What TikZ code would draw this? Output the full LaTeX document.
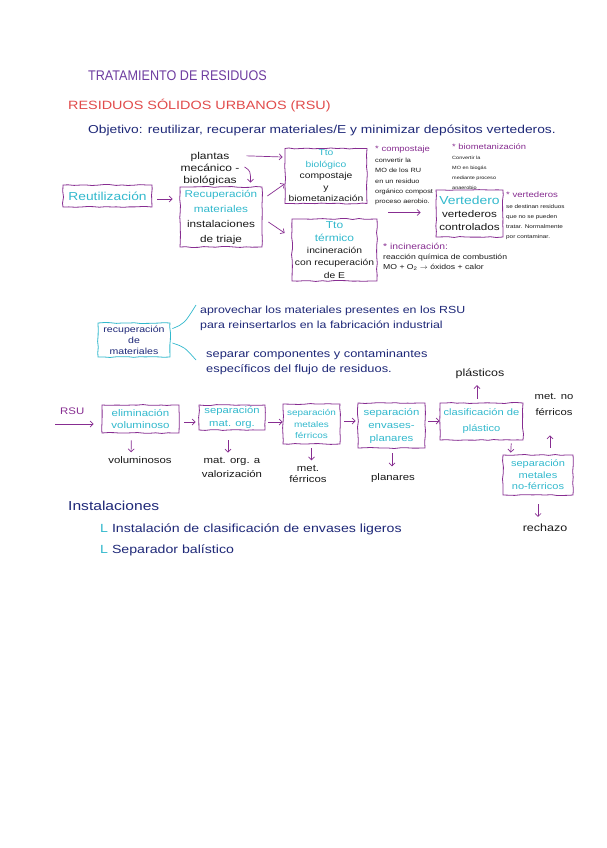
\documentclass[tikz,border=0pt]{standalone}
\usepackage{fontspec}
\setmainfont{Liberation Sans}[FakeStretch=1.2]
\newfontfamily\narrowf{Liberation Sans}[FakeStretch=0.9]
\usetikzlibrary{calc,decorations.pathmorphing,arrows.meta}
\definecolor{bpur}{RGB}{135,45,145}
\definecolor{cyanc}{RGB}{50,185,205}
\definecolor{navy}{RGB}{30,40,120}
\definecolor{redh}{RGB}{225,75,75}
\definecolor{tpur}{RGB}{110,60,160}
\definecolor{inkc}{RGB}{25,25,25}
\newcommand{\fs}[2]{\fontsize{#1}{#2}\selectfont}
\begin{document}
\pgfmathsetseed{7}
\begin{tikzpicture}[x=1pt,y=-1pt,
  hbox/.style={draw=bpur, line width=0.8pt, decorate,
    decoration={random steps,segment length=6pt,amplitude=0.5pt},
    align=center, inner sep=1pt, text=cyanc},
  cbox/.style={hbox, draw=cyanc, text=navy},
  arr/.style={draw=bpur, line width=0.7pt, -{Straight Barb[length=3pt,width=6pt]}},
  cline/.style={draw=cyanc, line width=0.7pt},
  anno/.style={anchor=north west, align=left, inner sep=0pt, text=inkc},
  outt/.style={align=center, inner sep=1pt, text=inkc, font=\fs{9.5}{11}},
  navyt/.style={anchor=west, align=left, inner sep=0pt, text=navy}
]
\useasboundingbox (0,0) rectangle (606,848);
\fill[white] (0,0) rectangle (606,848);

% headings
\node[anchor=west, inner sep=0pt, text=tpur, font=\narrowf\fs{14}{16}] (title) at (88,76) {TRATAMIENTO DE RESIDUOS};
\node[anchor=west, inner sep=0pt, text=redh, font=\fs{12}{14}] (rsuh) at (68,106) {RESIDUOS SÓLIDOS URBANOS (RSU)};
\node[anchor=west, inner sep=0pt, text=navy, font=\fs{11.5}{14}] (obj) at (88,130) {Objetivo: reutilizar, recuperar materiales/E y minimizar depósitos vertederos.};

% top flow
\node[hbox, minimum width=89pt, minimum height=22pt, font=\fs{11.5}{13}] (reut) at (107.5,196) {Reutilización};
\node[hbox, minimum width=82pt, minimum height=60pt, font=\fs{9.8}{15}] (recup) at (221,217) {Recuperación\\materiales\\\textcolor{inkc}{instalaciones}\\\textcolor{inkc}{de triaje}};
\node[hbox, minimum width=82pt, minimum height=55pt, font=\fs{8.6}{11.5}] (tbio) at (326,176) {Tto\\biológico\\\textcolor{inkc}{compostaje}\\\textcolor{inkc}{y}\\\textcolor{inkc}{biometanización}};
\node[hbox, minimum width=85pt, minimum height=62pt, font=\fs{8.6}{12.3}] (tterm) at (334.5,250) {{\fs{10}{12.3}Tto}\\{\fs{10}{12.3}térmico}\\\textcolor{inkc}{incineración}\\\textcolor{inkc}{con recuperación}\\\textcolor{inkc}{de E}};
\node[hbox, minimum width=67pt, minimum height=47pt, font=\fs{9.7}{13}] (vert) at (469.5,213.5) {{\fs{11.6}{13}Vertedero}\\\textcolor{inkc}{vertederos}\\\textcolor{inkc}{controlados}};

\node[outt, font=\fs{10}{12.3}] (plantas) at (210,169) {plantas\\mecánico -\\biológicas};

\draw[arr] ($(reut.east)+(5,3)$) -- ($(recup.west)+(-7,-18)$);
\draw[arr] ($(recup.east)+(5,-21)$) -- ($(tbio.south west)+(0,-20)$);
\draw[arr] ($(recup.east)+(6,5)$) -- ($(tterm.west)+(-7,-17)$);
\draw[arr] ($(plantas.north east)+(6,5)$) -- ($(tbio.west)+(-2,-19)$);
\draw[arr] ($(plantas.east)+(4,-2)$) .. controls +(6,4) .. ($(recup.north east)+(-12,-4)$);

% annotations
\node[anno, font=\fs{6.1}{10.4}] (compnote) at (375,146) {{\fs{7.9}{10.4}\textcolor{bpur}{* compostaje}}\\convertir la\\MO de los RU\\en un residuo\\orgánico compost\\proceso aerobio.};
\node[anno, font=\fs{4.6}{9.8}] (biomnote) at (452,144) {{\fs{7.8}{9.8}\textcolor{bpur}{* biometanización}}\\Convertir la\\MO en biogás\\mediante proceso\\anaerobio};
\node[anno, font=\fs{5.3}{10.2}] (vertnote) at (506,192) {{\fs{8}{10.2}\textcolor{bpur}{* vertederos}}\\se destinan residuos\\que no se pueden\\tratar. Normalmente\\por contaminar.};
\node[anno, font=\fs{7.2}{10}] (incnote) at (383,243) {{\fs{8.6}{10}\textcolor{bpur}{* incineración:}}\\reacción química de combustión\\MO + O\textsubscript{2} $\to$ óxidos + calor};
\draw[arr] ($(compnote.south west |- vert.west)+(13,-1)$) -- ($(vert.west)+(-15,-1)$);

% section 2
\node[cbox, minimum width=72pt, minimum height=34pt, font=\fs{8.8}{11}] (recmat) at (134,340) {recuperación\\de\\materiales};
\node[navyt, font=\fs{10.3}{15}] (aprov) at (200,318) {aprovechar los materiales presentes en los RSU\\para reinsertarlos en la fabricación industrial};
\node[navyt, font=\fs{10.7}{14.5}] (sepa) at (206,362) {separar componentes y contaminantes\\específicos del flujo de residuos.};
\draw[cline] ($(recmat.north east)+(2,6)$) .. controls +(12,-5) .. ($(aprov.west)+(-4,-13)$);
\draw[cline] ($(recmat.east)+(2,3)$) .. controls +(12,4) .. ($(sepa.west)+(-10,-2)$);

% section 3
\node[anchor=west, inner sep=0pt, text=bpur, font=\fs{9.5}{11}] (rsu) at (60,411) {RSU};
\node[hbox, minimum width=77pt, minimum height=28pt, font=\fs{9.6}{12}] (b1) at (140.5,419) {eliminación\\voluminoso};
\node[hbox, minimum width=66pt, minimum height=25pt, font=\fs{9.4}{12.5}] (b2) at (232,417.5) {separación\\mat. org.};
\node[hbox, minimum width=57pt, minimum height=40pt, font=\fs{8.3}{11.5}] (b3) at (311.5,424) {separación\\metales\\férricos};
\node[hbox, minimum width=67pt, minimum height=45pt, font=\fs{9.5}{13}] (b4) at (391.5,425.5) {separación\\envases-\\planares};
\node[hbox, minimum width=83pt, minimum height=37pt, font=\fs{9.3}{16}] (b5) at (481.5,421.5) {clasificación de\\plástico};
\node[hbox, minimum width=70pt, minimum height=40pt, font=\fs{9.2}{11.5}] (b6) at (538,475) {separación\\metales\\no-férricos};

\node[outt] (vol) at (140,460) {voluminosos};
\node[outt, font=\fs{9.5}{14}] (morg) at (232,467) {mat. org. a\\valorización};
\node[outt, font=\fs{9.5}{10.5}] (metf) at (308,474) {met.\\férricos};
\node[outt] (plan) at (393,478) {planares};
\node[outt, font=\fs{10.4}{12}] (plast) at (480,374) {plásticos};
\node[outt, font=\fs{9.4}{16}] (metno) at (554,405) {met. no\\férricos};
\node[outt, font=\fs{10.4}{12}] (rech) at (545,528) {rechazo};

\draw[arr] ($(rsu.west |- b1.west)+(-5,5)$) -- ($(b1.west)+(-8,5)$);
\draw[arr] ($(b1.east)+(5,3)$) -- ($(b2.west)+(-3,4.5)$);
\draw[arr] ($(b2.east)+(3,4.5)$) -- ($(b3.west)+(0,-2)$);
\draw[arr] ($(b3.east)+(4,-3)$) -- ($(b4.west)+(-2,-4.5)$);
\draw[arr] ($(b4.east)+(3,-4.5)$) -- ($(b5.west)+(0,-0.5)$);
\draw[arr, shorten <=7pt, shorten >=3pt] ($(b1.south)+(-9,0)$) -- ($(vol.north)+(-9,0)$);
\draw[arr, shorten <=10pt, shorten >=3pt] ($(b2.south)+(-4,0)$) -- ($(morg.north)+(-4,0)$);
\draw[arr, shorten <=4pt, shorten >=4pt] ($(b3.south)+(0,0)$) -- ($(metf.north)+(3.5,0)$);
\draw[arr, shorten <=5pt, shorten >=6pt] ($(b4.south)+(0.5,0)$) -- ($(plan.north)+(-1,0)$);
\draw[arr, shorten <=4pt, shorten >=5pt] ($(b5.north)+(-4.5,0)$) -- ($(plast.south)+(-3,0)$);
\draw[arr, shorten <=3pt, shorten >=2pt] ($(b5.south east)+(-12,0)$) -- ($(b6.north west)+(8,0)$);
\draw[arr, shorten <=7pt, shorten >=18pt] ($(b6.north)+(12,0)$) -- ($(metno.south)+(-4,0)$);
\draw[arr, shorten <=9pt, shorten >=6pt] ($(b6.south)+(0,0)$) -- ($(rech.north)+(-7,0)$);

% instalaciones
\node[navyt, font=\fs{13}{15}] (inst) at (68,506) {Instalaciones};
\node[navyt, font=\fs{11.8}{13}] (inst1) at (100,529) {\textcolor{cyanc}{L} Instalación de clasificación de envases ligeros};
\node[navyt, font=\fs{11.8}{13}] (inst2) at (100,550) {\textcolor{cyanc}{L} Separador balístico};
\end{tikzpicture}
\end{document}
